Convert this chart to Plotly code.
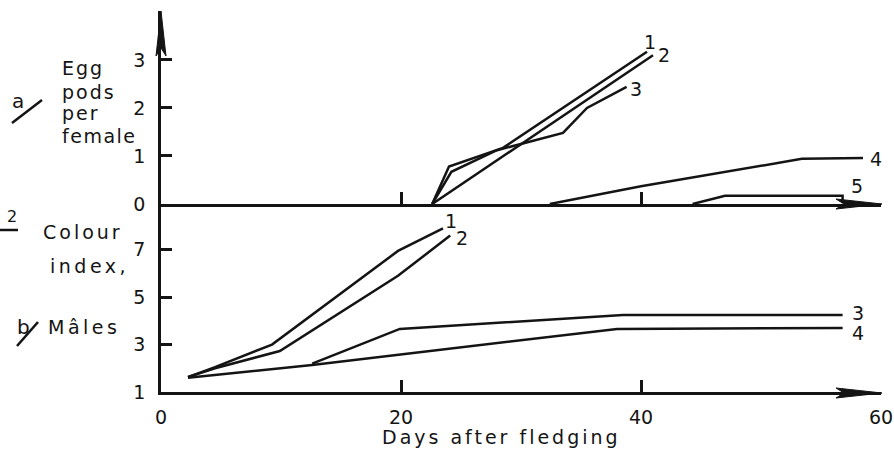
import plotly.graph_objects as go

# ---------------- data ----------------
# a/ Egg pods per female (top panel)
days_a1 = [22.6, 24.0, 28.5, 40.5]
pods_a1 = [0.0, 0.78, 1.17, 3.17]
days_a2 = [22.6, 30.0, 41.0]
pods_a2 = [0.0, 1.25, 3.1]
days_a3 = [22.6, 24.2, 28.0, 33.5, 35.5, 38.8]
pods_a3 = [0.0, 0.67, 1.12, 1.48, 2.0, 2.44]
days_a4 = [32.4, 40.0, 53.4, 58.5]
pods_a4 = [0.0, 0.37, 0.94, 0.96]
days_a5 = [44.3, 47.0, 56.8, 56.8]
pods_a5 = [0.0, 0.17, 0.17, 0.03]

# b/ Males colour index (bottom panel)
days_b1 = [2.25, 4.5, 9.25, 19.75, 23.5]
col_b1 = [1.63, 2.05, 3.0, 6.95, 7.9]
days_b2 = [2.25, 4.5, 9.9, 19.75, 24.1]
col_b2 = [1.63, 2.0, 2.73, 5.9, 7.6]
days_b3 = [12.6, 19.9, 38.5, 56.8]
col_b3 = [2.2, 3.66, 4.25, 4.25]
days_b4 = [2.25, 12.6, 38.0, 56.8]
col_b4 = [1.6, 2.14, 3.66, 3.7]

x_ticks = [0, 20, 40, 60]
top_y_ticks = [0, 1, 2, 3]
bot_y_ticks = [1, 3, 5, 7]

# ---------------- layout helpers ----------------
W, H = 894, 449
INK = "#141414"
FONT = "DejaVu Sans"


def px(x):
    return x / W


def py(y):
    return 1 - y / H


fig = go.Figure()

top_series = [
    (days_a1, pods_a1, "1", 3, 10),
    (days_a2, pods_a2, "2", 11, 0),
    (days_a3, pods_a3, "3", 9, -2),
    (days_a4, pods_a4, "4", 13, -1),
    (days_a5, pods_a5, "5", 14, 10),
]
bot_series = [
    (days_b1, col_b1, "1", 8, 7),
    (days_b2, col_b2, "2", 12, -2),
    (days_b3, col_b3, "3", 15, 2),
    (days_b4, col_b4, "4", 15, -5),
]

annotations = []
for xs, ys, lab, dx, dy in top_series:
    fig.add_trace(go.Scatter(x=xs, y=ys, mode="lines", xaxis="x2", yaxis="y",
                             line=dict(color=INK, width=2.5), showlegend=False,
                             hoverinfo="skip"))
    k = -2 if lab == "5" else -1
    annotations.append(dict(x=xs[k], y=ys[k], xref="x2", yref="y", text=lab,
                            showarrow=False, xshift=dx, yshift=dy,
                            font=dict(family=FONT, size=19, color=INK)))
for xs, ys, lab, dx, dy in bot_series:
    fig.add_trace(go.Scatter(x=xs, y=ys, mode="lines", xaxis="x", yaxis="y2",
                             line=dict(color=INK, width=2.5), showlegend=False,
                             hoverinfo="skip"))
    annotations.append(dict(x=xs[-1], y=ys[-1], xref="x", yref="y2", text=lab,
                            showarrow=False, xshift=dx, yshift=dy,
                            font=dict(family=FONT, size=19, color=INK)))


def txt(x, y, s, size=19, spacing=0, xanchor="left"):
    if spacing:
        s = '<span style="letter-spacing:%spx">%s</span>' % (spacing, s)
    annotations.append(dict(x=px(x), y=py(y), xref="paper", yref="paper", text=s,
                            showarrow=False, xanchor=xanchor, yanchor="middle",
                            font=dict(family=FONT, size=size, color=INK)))


txt(60, 68, "Egg", spacing=2)
txt(60, 92, "pods", spacing=2)
txt(60, 113, "per", spacing=2)
txt(60, 136, "female", spacing=1.5)
txt(10, 101, "a", size=20)
txt(5, 216, "2", size=16)
txt(41, 232, "Colour", spacing=3)
txt(48, 266, "index,", spacing=3.5)
txt(15, 327, "b", size=20)
txt(46, 327, "Mâles", spacing=3.5)
txt(501, 437, "Days after fledging", spacing=3, xanchor="center")

shapes = []


def seg(x0, y0, x1, y1, w=2.5):
    shapes.append(dict(type="line", xref="paper", yref="paper",
                       x0=px(x0), y0=py(y0), x1=px(x1), y1=py(y1),
                       line=dict(color=INK, width=w)))


seg(12, 123, 42, 100)     # a/
seg(17, 346, 38, 322)     # b/
seg(0, 230, 18, 230)      # underline of 2


def poly(points):
    d = "M " + " L ".join("%.5f,%.5f" % (px(a), py(b)) for a, b in points) + " Z"
    shapes.append(dict(type="path", xref="paper", yref="paper", path=d,
                       fillcolor=INK, line=dict(color=INK, width=1)))


# axis arrowheads
poly([(836, 388), (882, 393), (836, 398), (844, 393)])
poly([(836, 199), (882, 204), (836, 209), (844, 204)])
poly([(156, 56), (161, 11), (166, 56), (161, 48)])

x_dom = [px(161), px(881)]
axis_common = dict(showline=True, linecolor=INK, linewidth=2.5, showgrid=False,
                   zeroline=False, automargin=False,
                   tickfont=dict(family=FONT, size=19, color=INK))

fig.update_layout(
    width=W, height=H, autosize=False,
    margin=dict(l=0, r=0, t=0, b=0, pad=0),
    paper_bgcolor="white", plot_bgcolor="rgba(0,0,0,0)",
    showlegend=False,
    xaxis=dict(domain=x_dom, anchor="y2", range=[0, 60], tickvals=x_ticks,
               ticks="", ticklabelstandoff=6,
               minor=dict(tickvals=[20, 40], ticks="inside", ticklen=12,
                          tickwidth=2.5, tickcolor=INK),
               **axis_common),
    xaxis2=dict(domain=x_dom, anchor="y", range=[0, 60], showticklabels=False,
                ticks="", matches="x",
                minor=dict(tickvals=[20, 40], ticks="inside", ticklen=12,
                           tickwidth=2.5, tickcolor=INK),
                **axis_common),
    yaxis=dict(domain=[py(204), py(11)], anchor="x2", range=[0, 4.02],
               tickvals=top_y_ticks, ticks="", ticklabelstandoff=9,
               minor=dict(tickvals=[1, 2, 3], ticks="inside", ticklen=11,
                          tickwidth=2.5, tickcolor=INK),
               **axis_common),
    yaxis2=dict(domain=[py(392), py(204)], anchor="x", range=[1, 8.93],
                tickvals=bot_y_ticks, ticks="", ticklabelstandoff=9,
                minor=dict(tickvals=[3, 5, 7], ticks="inside", ticklen=11,
                           tickwidth=2.5, tickcolor=INK),
                **axis_common),
    annotations=annotations,
    shapes=shapes,
)

fig.write_html(
    "out.html",
    config={"displayModeBar": False},
    post_script="document.body.style.margin='0';document.body.style.overflow='hidden';",
)
